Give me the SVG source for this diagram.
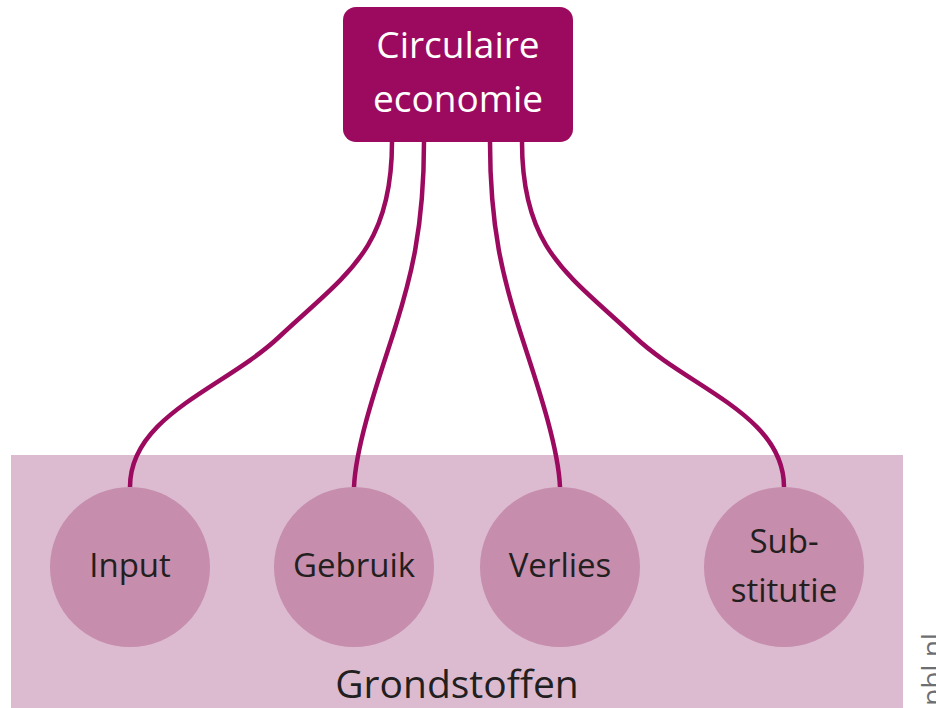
<svg xmlns="http://www.w3.org/2000/svg" width="936" height="708" viewBox="0 0 936 708">
<style>
.lbl{font-family:"Open Sans","Noto Sans",sans-serif;font-size:33px;fill:#231f20;text-anchor:middle}
.top{font-family:"Open Sans","Noto Sans",sans-serif;font-size:37px;fill:#ffffff;text-anchor:middle}
.circ{fill:#c68dac}
.conn{fill:none;stroke:#9c0a5f;stroke-width:4.5;stroke-linecap:butt}
</style>
<rect id="grondstoffen-bg" x="11" y="455" width="892" height="260" fill="#dcbbd0"/>
<g id="connectors">
<path class="conn" d="M392,142 C392,250 345,275 279,337 C225,388 130,415 130,487"/>
<path class="conn" d="M424,142 C424,230 410,280 396,325 C384,364 356,440 354,487"/>
<path class="conn" d="M490,142 C490,230 504,280 518,325 C530,364 558,440 560,487"/>
<path class="conn" d="M522,142 C522,250 569,275 635,337 C689,388 784,415 784,487"/>
</g>
<g id="circulaire-economie">
<rect x="343" y="7" width="230" height="135" rx="13" fill="#9c0a5f"/>
<text class="top" x="458" y="58">Circulaire</text>
<text class="top" x="458" y="112">economie</text>
</g>
<g id="input">
<circle class="circ" cx="130" cy="567" r="80"/>
<text class="lbl" x="130" y="577">Input</text>
</g>
<g id="gebruik">
<circle class="circ" cx="354" cy="567" r="80"/>
<text class="lbl" x="354" y="577">Gebruik</text>
</g>
<g id="verlies">
<circle class="circ" cx="560" cy="567" r="80"/>
<text class="lbl" x="560" y="577">Verlies</text>
</g>
<g id="substitutie">
<circle class="circ" cx="784" cy="567" r="80"/>
<text class="lbl" x="784" y="553">Sub-</text>
<text class="lbl" x="784" y="602">stitutie</text>
</g>
<g id="grondstoffen">
<text class="lbl" x="457" y="698" style="font-size:39px">Grondstoffen</text>
</g>
<text x="0" y="0" transform="translate(942,706) rotate(-90)" style="font-family:'Open Sans','Noto Sans',sans-serif;font-size:28px;fill:#6d6e71">pbl.nl</text>
</svg>
